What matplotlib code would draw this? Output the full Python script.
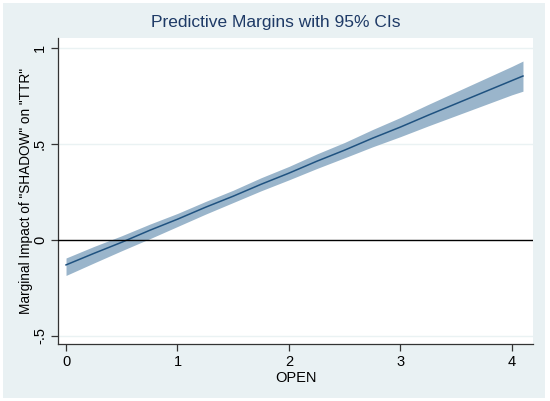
import matplotlib
matplotlib.use("Agg")
import matplotlib.pyplot as plt
from matplotlib.patches import Rectangle

plt.rcParams['font.family'] = ['Liberation Sans', 'DejaVu Sans']

open_x = [0.0, 0.25, 0.5, 0.75, 1.0, 1.25, 1.5, 1.75, 2.0, 2.25, 2.5, 2.75, 3.0, 3.25, 3.5, 3.75, 4.0, 4.1]
margin = [-0.13, -0.07, -0.012, 0.05, 0.108, 0.17, 0.228, 0.29, 0.348, 0.41, 0.468, 0.53, 0.588, 0.65, 0.71, 0.77, 0.83, 0.854]
ci_lo = [-0.185, -0.12, -0.056, 0.006, 0.07, 0.134, 0.195, 0.256, 0.313, 0.372, 0.428, 0.485, 0.538, 0.594, 0.648, 0.702, 0.756, 0.775]
ci_hi = [-0.094, -0.034, 0.022, 0.082, 0.138, 0.2, 0.259, 0.324, 0.383, 0.448, 0.508, 0.575, 0.638, 0.706, 0.772, 0.838, 0.904, 0.932]

yticks = [-0.5, 0, 0.5, 1]
ytick_labels = ["-.5", "0", ".5", "1"]
xticks = [0, 1, 2, 3, 4]

W, H = 550, 401
fig = plt.figure(figsize=(5.5, 4.01), dpi=100, facecolor="white")
bg = "#e9f1f3"
fig.patches.append(Rectangle((3 / W, 3 / H), (545 - 3) / W, (398 - 3) / H,
                             transform=fig.transFigure, facecolor=bg, edgecolor="none", zorder=-5))

left, right, top, bottom = 58, 533, 38, 344
ax = fig.add_axes([left / W, 1 - bottom / H, (right - left) / W, (bottom - top) / H])
ax.set_zorder(2)
ax.set_facecolor("white")

ax.fill_between(open_x, ci_lo, ci_hi, color="#9ab5cb", linewidth=0, zorder=2)
ax.plot(open_x, margin, color="#1f5280", linewidth=1.1, zorder=3)
ax.axhline(0, color="black", linewidth=1.0, zorder=4)

ax.set_xlim(-0.072, 4.19)
ax.set_ylim(-0.542, 1.052)

ax.set_yticks(yticks)
ax.set_yticklabels(ytick_labels, rotation=90, va="center")
ax.set_xticks(xticks)
ax.set_xticklabels([str(t) for t in xticks])

for y in yticks:
    if y != 0:
        ax.axhline(y, color="#eaf2f3", linewidth=1.0, zorder=1)

for s in ["top", "right"]:
    ax.spines[s].set_visible(False)
for s in ["left", "bottom"]:
    ax.spines[s].set_color("#333333")
    ax.spines[s].set_linewidth(0.9)

ax.tick_params(axis="both", direction="out", length=5, width=0.9, color="#333333",
               labelsize=10.5, labelcolor="black", pad=3)

ax.set_xlabel("OPEN", fontsize=10.5, labelpad=1)
ax.set_ylabel('Marginal Impact of "SHADOW" on "TTR"', fontsize=9.8)
ax.yaxis.set_label_coords((33 - left) / (right - left), 0.5)

fig.text(276 / W, 1 - 22 / H, "Predictive Margins with 95% CIs", ha="center", va="center",
         fontsize=12.5, color="#1e3a66")

fig.savefig("out.png", dpi=100, facecolor=fig.get_facecolor())
